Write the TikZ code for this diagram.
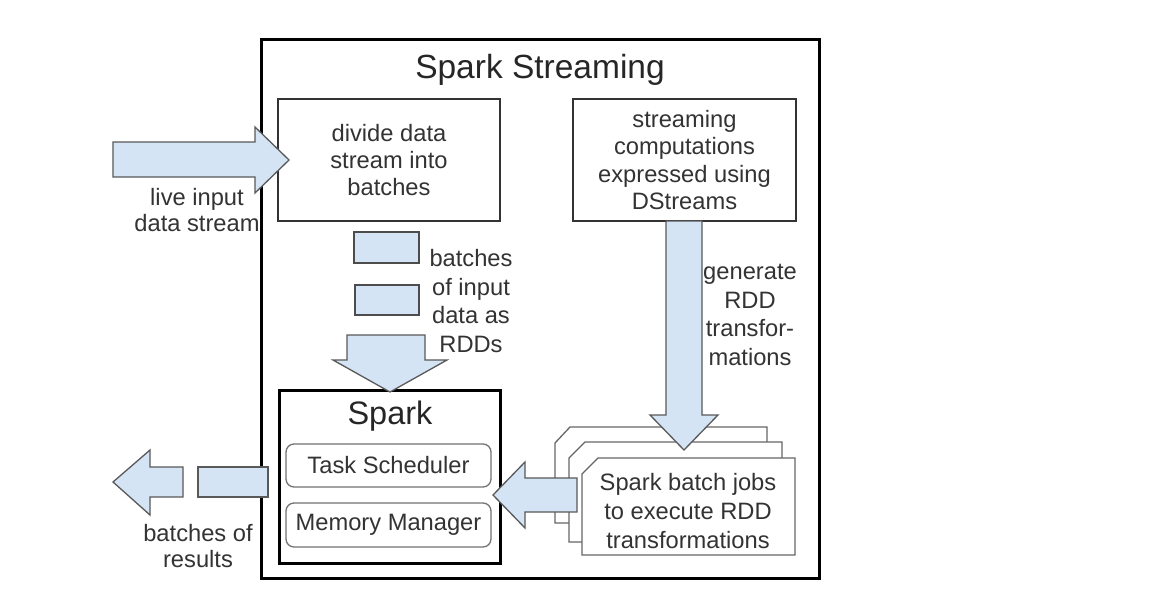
\documentclass[tikz,border=0pt]{standalone}
\usepackage{fontspec}
\setmainfont{Liberation Sans}
\begin{document}
\begin{tikzpicture}[x=1pt,y=-1pt,
  txt/.style={text=black!80, font=\fontsize{23.7}{26.8}\selectfont, align=center, inner sep=0pt},
  wide/.style={font=\fontsize{23.7}{28.8}\selectfont},
  big/.style={text=black!85, inner sep=0pt},
  plainbox/.style={draw=black!80, line width=1.8pt, fill=white},
  rbox/.style={draw=black!55, line width=1.3pt, rounded corners=8pt, fill=white, inner sep=0pt},
  barrow/.style={draw=black!65, line width=1.3pt, fill=arrowblue, line join=miter},
  doc/.style={draw=black!60, line width=1.3pt, fill=white},
]
\definecolor{arrowblue}{HTML}{D4E4F5}
\useasboundingbox[fill=white] (0,0) rectangle (1149,602);

% outer box
\node[draw=black, line width=3pt, minimum width=558, minimum height=538, inner sep=0pt] (outer) at (540,309) {};
\node[big, font=\fontsize{33.5}{38}\selectfont] (title) at (540,70) {Spark Streaming};

% top boxes
\node[plainbox, minimum width=222, minimum height=122, inner sep=0pt] (divide) at (389,160) {};
\node[txt] at (divide.center) {divide data\\stream into\\batches};
\node[plainbox, minimum width=223, minimum height=122, inner sep=0pt] (stream) at (684.5,160) {};
\node[txt, font=\fontsize{23.7}{27.3}\selectfont] at (stream.center) {streaming\\computations\\expressed using\\DStreams};

% live input arrow
\draw[barrow] (113,142) -- (255,142) -- (255,127) -- (289,160) -- (255,193) -- (255,177) -- (113,177) -- cycle;
\node[txt] (inlbl) at (197,210) {live input\\data stream};

% batches of input
\node[draw=black!70, line width=1.5pt, fill=arrowblue, minimum width=65, minimum height=31, inner sep=0pt] (b1) at (386.5,247.5) {};
\node[draw=black!70, line width=1.5pt, fill=arrowblue, minimum width=64, minimum height=30, inner sep=0pt] (b2) at (387,300) {};
\node[txt, wide] (blbl) at (471,301) {batches\\of input\\data as\\RDDs};

% Spark box
\node[draw=black, line width=3pt, minimum width=221, minimum height=173, inner sep=0pt, fill=white] (spark) at (389.5,476.5) {};
\node[big, font=\fontsize{32.5}{36}\selectfont] (sparkt) at (390,416) {Spark};
\node[rbox, minimum width=205, minimum height=43] (task) at (388.5,465.5) {};
\node[txt] at (task.center) {Task Scheduler};
\node[rbox, minimum width=205, minimum height=44] (mem) at (388.5,525) {};
\node[txt] at (mem.center) {Memory Manager};

% down arrow into Spark
\draw[barrow] (347,335) -- (425,335) -- (425,360) -- (447,360) -- (390,392) -- (333,360) -- (347,360) -- cycle;

% batch job documents
\draw[doc] (555,443) -- (570,427) -- (767,427) -- (767,523) -- (555,523) -- cycle;
\draw[doc] (569,458) -- (585,442) -- (782,442) -- (782,542) -- (569,542) -- cycle;
\draw[doc] (582,474) -- (598,458) -- (795,458) -- (795,555) -- (582,555) -- cycle;
\node[txt, wide] (jobs) at (688,511) {Spark batch jobs\\to execute RDD\\transformations};

% down arrow from streaming box
\draw[barrow] (666,221) -- (702,221) -- (702,415) -- (718,415) -- (684,450) -- (650,415) -- (666,415) -- cycle;
\node[txt, wide] (glbl) at (750,315) {generate\\RDD\\transfor-\\mations};

% arrow from jobs to Spark
\draw[barrow] (577,478) -- (525,478) -- (525,462) -- (493,495) -- (525,528) -- (525,512) -- (577,512) -- cycle;

% output arrow
\draw[barrow] (198,467) rectangle (268,497);
\draw[barrow] (183,467) -- (150,467) -- (150,450) -- (113,482) -- (150,515) -- (150,497) -- (183,497) -- cycle;
\node[txt] (outlbl) at (198,546) {batches of\\results};
\end{tikzpicture}
\end{document}
